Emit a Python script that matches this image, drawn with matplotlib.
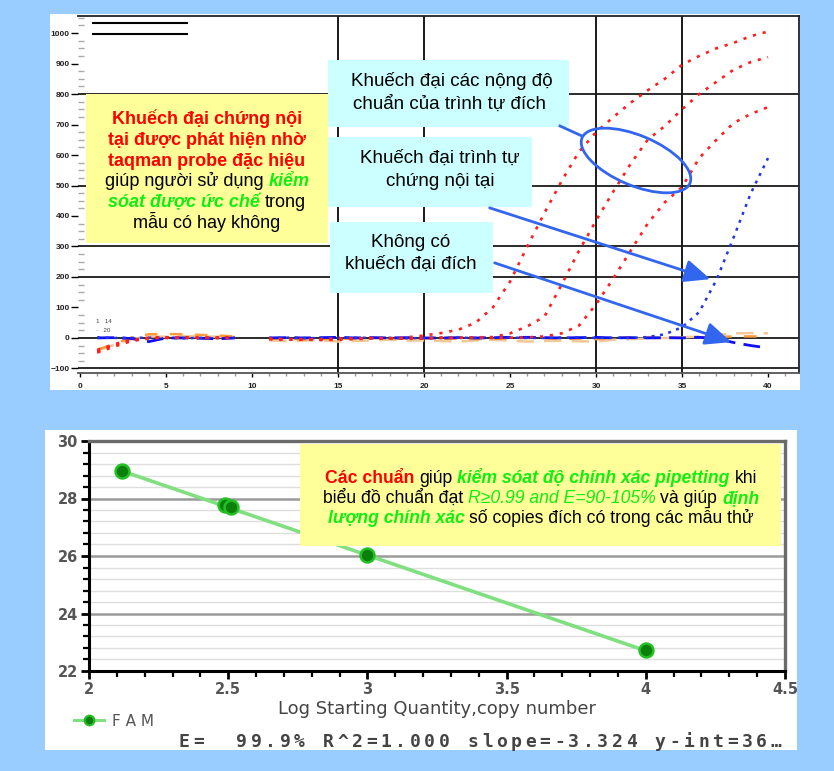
import numpy as np
import matplotlib
matplotlib.use("Agg")
import matplotlib.pyplot as plt
from matplotlib.patches import Rectangle, Ellipse, FancyArrowPatch
from matplotlib.ticker import MultipleLocator
from matplotlib.lines import Line2D

W, H = 834, 771
plt.rcParams['font.family'] = ['Liberation Sans', 'DejaVu Sans']

# ---------------- real-time amplification curves (fluorescence vs cycle) ----------------
nan = np.nan
cycles = np.arange(1, 41)
red_std_high = [-45, -24, -8, 1, 0, 2, 0, 1, 0, nan,
                -2, -4, -3, -5, -2, -1, 0, -2, 2, 8,
                16, 27, 50, 100, 185, 300, 410, 515, 610, 675,
                724, 771, 812, 850, 896, 925, 950, 968, 990, 1005]
red_std_mid = [-48, -28, -10, -2, 1, 0, 2, 0, 1, nan,
               -3, -5, -6, -4, -3, -2, -1, 0, -2, 0,
               1, 0, 2, 3, 15, 38, 70, 175, 285, 385,
               480, 570, 650, 695, 750, 800, 840, 880, 905, 921]
red_std_low = [-40, -20, -6, 0, 2, 1, 0, 0, 0, nan,
               -4, -6, -5, -7, -6, -4, -2, -1, -3, -2,
               0, 1, 2, 0, 1, 2, 5, 15, 40, 110,
               195, 285, 375, 445, 495, 590, 650, 705, 735, 757]
blue_internal_ctrl = [2, 0, 0, 1, 0, -1, 0, 0, 1, nan,
                      0, 1, 0, -1, 0, 1, 0, 0, -1, 0,
                      0, 1, 0, 0, 1, 0, 0, 1, 2, 0,
                      1, 0, 3, 12, 35, 85, 190, 330, 475, 590]
blue_no_target = [0, 1, -2, -12, 0, 0, -1, -3, 0, nan,
                  0, 1, 0, 1, 2, 0, 1, 0, 1, 0,
                  0, 1, 0, 1, 2, 2, 1, 0, 1, 2,
                  0, 1, 0, 1, 0, 2, -2, -15, -25, -33]
orange_ntc = [-38, -20, 2, 12, 13, 12, 10, 8, 5, nan,
              -3, -2, -5, -4, -3, -2, 0, -1, -2, -1,
              -3, -2, -4, -3, -2, 0, -1, -3, -2, -4,
              0, 1, 2, 0, 1, 2, 3, 5, 5, 5]
tan_ntc = [-42, -22, -4, 5, 4, 6, 5, 4, 3, nan,
           -8, -10, -9, -7, -12, -10, -8, -6, -9, -8,
           -10, -12, -8, -6, -9, -12, -10, -9, -11, -12,
           -6, -4, -2, 0, 2, 5, 10, 15, 16, 15]

amp_xticks = list(range(0, 41, 5))
amp_yticks = list(range(-100, 1001, 100))
amp_hgrid = [800, 500, 300, 200, 0, -100]
amp_vgrid = [15, 20, 30, 35]

# ---------------- standard curve ----------------
std_log_qty = [2.12, 2.49, 2.51, 3.0, 4.0]
std_ct = [28.95, 27.76, 27.70, 26.02, 22.72]
fit_slope = -3.324
fit_intercept = 36.0
fit_efficiency = 99.9
fit_r2 = 1.000
std_xticks = [2, 2.5, 3, 3.5, 4, 4.5]
std_xticklabels = ['2', '2.5', '3', '3.5', '4', '4.5']
std_yticks = [22, 24, 26, 28, 30]


def frac(x0, y0, x1, y1):
    return [x0 / W, 1 - y1 / H, (x1 - x0) / W, (y1 - y0) / H]


fig = plt.figure(figsize=(W / 100, H / 100), dpi=100, facecolor='#99CCFF')

# white panels behind both charts
bg = fig.add_axes([0, 0, 1, 1], zorder=0)
bg.set_xlim(0, W)
bg.set_ylim(H, 0)
bg.axis('off')
bg.add_patch(Rectangle((50, 14), 750, 376, facecolor='white', edgecolor='none'))
bg.add_patch(Rectangle((45, 430), 752, 320, facecolor='white', edgecolor='none'))

# ---------------- amplification plot ----------------
ax1 = fig.add_axes(frac(78, 16, 799, 373), zorder=1)
ax1.set_facecolor('white')
ax1.set_xlim(-0.12, 41.8)
ax1.set_ylim(-115, 1056)
for yv in amp_hgrid:
    ax1.axhline(yv, color='#1a1a1a', lw=1.3, zorder=1)
for xv in amp_vgrid:
    ax1.axvline(xv, color='#1a1a1a', lw=1.4, zorder=1)

ax1.plot(cycles, tan_ntc, color='#F3C896', lw=1.8, ls=(0, (7, 4)), zorder=2)
ax1.plot(cycles, orange_ntc, color='#FF9A3C', lw=1.8, ls=(0, (5, 5)), zorder=2)
ax1.plot(cycles, blue_no_target, color='#1010F0', lw=2.0, ls=(0, (6, 3)), zorder=3)
ax1.plot(cycles, blue_internal_ctrl, color='#2233EE', lw=1.8, ls=(0, (1.2, 2.2)), zorder=3)
for series in (red_std_high, red_std_mid, red_std_low):
    ax1.plot(cycles, series, color='#FF1E1E', lw=1.9, ls=(0, (1.2, 2.6)), zorder=4)

ax1.spines['left'].set_visible(False)
for side in ('top', 'right'):
    ax1.spines[side].set_color('#222')
    ax1.spines[side].set_linewidth(1.3)
ax1.spines['bottom'].set_color('#555')
ax1.spines['bottom'].set_linewidth(1.3)

ax1.set_xticks(amp_xticks)
ax1.set_yticks(amp_yticks)
ax1.xaxis.set_minor_locator(MultipleLocator(1))
ax1.yaxis.set_minor_locator(MultipleLocator(25))
ax1.tick_params(axis='y', which='major', direction='out', length=5, width=1,
                labelsize=6, labelcolor='#222', pad=1)
ax1.tick_params(axis='y', which='minor', direction='in', length=4, width=1, color='#aaa')
ax1.tick_params(axis='x', which='major', direction='out', length=3, width=1,
                labelsize=6, labelcolor='#222', pad=4)
ax1.tick_params(axis='x', which='minor', direction='out', length=2, width=1, color='#999')
for lbl in ax1.get_yticklabels() + ax1.get_xticklabels():
    lbl.set_fontweight('bold')

# well labels
ax1.text(0.9, 55, '1   14', fontsize=4.5, color='#444', va='center')
ax1.text(0.9, 25, '·   20', fontsize=4.5, color='#444', va='center')

# ---------------- standard curve plot ----------------
ax2 = fig.add_axes(frac(89, 441, 785, 671), zorder=1)
ax2.set_facecolor('white')
ax2.set_xlim(2, 4.5)
ax2.set_ylim(22, 30)
ax2.set_xticks(std_xticks)
ax2.set_xticklabels(std_xticklabels)
ax2.set_yticks(std_yticks)
ax2.yaxis.set_minor_locator(MultipleLocator(0.4))
ax2.xaxis.set_minor_locator(MultipleLocator(0.1))
ax2.grid(which='major', axis='y', color='#9a9a9a', lw=1.8, zorder=0)
ax2.grid(which='minor', axis='y', color='#dedede', lw=1.0, zorder=0)
ax2.set_axisbelow(True)
ax2.tick_params(axis='both', which='major', direction='out', length=6, width=2,
                color='black', labelsize=10.5, labelcolor='#555', pad=2)
ax2.tick_params(axis='both', which='minor', direction='out', length=4.5, width=1.6, color='black')
for lbl in ax2.get_xticklabels() + ax2.get_yticklabels():
    lbl.set_fontweight('bold')
    lbl.set_family('DejaVu Sans')
for side in ('left', 'bottom'):
    ax2.spines[side].set_color('black')
    ax2.spines[side].set_linewidth(2.2)
for side in ('top', 'right'):
    ax2.spines[side].set_color('#6b6b6b')
    ax2.spines[side].set_linewidth(2.4)

fit_x = np.array([min(std_log_qty), max(std_log_qty)])
ax2.plot(fit_x, fit_intercept + fit_slope * fit_x, color='#80E080', lw=2.6, zorder=3)
ax2.plot(std_log_qty, std_ct, 'o', ms=10, mfc='#0B800B', mec='#25C025', mew=1.8, zorder=4)
ax2.set_xlabel('Log Starting Quantity,copy number', fontsize=13, color='#444',
               family='DejaVu Sans', labelpad=2)

fam_handle = Line2D([], [], color='#80E080', lw=2.2, marker='o', ms=7,
                    mfc='#0B800B', mec='#25C025', mew=1.5)
leg = ax2.legend([fam_handle], ['F A M'], loc='center left',
                 bbox_to_anchor=(66 / W, 1 - 721 / H), bbox_transform=fig.transFigure,
                 frameon=False, handlelength=2.0, handletextpad=0.5, borderpad=0,
                 prop={'family': 'DejaVu Sans', 'size': 11})
for t in leg.get_texts():
    t.set_color('#555')

# ---------------- annotation layer ----------------
ov = fig.add_axes([0, 0, 1, 1], zorder=5)
ov.set_xlim(0, W)
ov.set_ylim(H, 0)
ov.axis('off')
ov.patch.set_alpha(0)

ov.plot([93, 187], [23, 23], color='black', lw=1.5)
ov.plot([93, 187], [34, 34], color='black', lw=1.5)

YELLOW = '#FFFF99'
CYAN = '#CCFFFF'
ov.add_patch(Rectangle((86, 94), 242, 149, facecolor=YELLOW, edgecolor='none'))
ov.add_patch(Rectangle((328, 60), 241, 67, facecolor=CYAN, edgecolor='none'))
ov.add_patch(Rectangle((328, 137), 204, 70, facecolor=CYAN, edgecolor='none'))
ov.add_patch(Rectangle((330, 222), 163, 71, facecolor=CYAN, edgecolor='none'))
ov.add_patch(Rectangle((300, 444), 481, 102, facecolor=YELLOW, edgecolor='none'))

STYLES = {
    'n': dict(color='black'),
    'r': dict(color='#FF0000', fontweight='bold'),
    'g': dict(color='#11EE11', fontweight='bold', fontstyle='italic'),
    'gi': dict(color='#11EE11', fontstyle='italic'),
}
renderer = fig.canvas.get_renderer()


def text_width(s, size, style):
    t = ov.text(0, 0, s, fontsize=size, **STYLES[style])
    w = t.get_window_extent(renderer).width
    t.remove()
    return w


def rich_line(xc, yb, parts, size):
    space = text_width('x x', size, 'n') - text_width('xx', size, 'n')
    items, total = [], 0.0
    for s, st in parts:
        lead = (len(s) - len(s.lstrip(' '))) * space
        trail = (len(s) - len(s.rstrip(' '))) * space
        core = s.strip(' ')
        w = text_width(core, size, st)
        items.append((lead, core, st, w, trail))
        total += lead + w + trail
    x = xc - total / 2
    for lead, core, st, w, trail in items:
        x += lead
        ov.text(x, yb, core, fontsize=size, ha='left', va='baseline', **STYLES[st])
        x += w + trail


FS = 13
yellow_lines = [
    [('Khuếch đại chứng nội', 'r')],
    [('tại được phát hiện nhờ', 'r')],
    [('taqman probe đặc hiệu', 'r')],
    [('giúp người sử dụng ', 'n'), ('kiểm', 'g')],
    [('sóat được ức chế', 'g'), (' trong', 'n')],
    [('mẫu có hay không', 'n')],
]
for i, parts in enumerate(yellow_lines):
    rich_line(207, 124 + 20.8 * i, parts, FS)

FSC = 13.5
rich_line(452, 86, [('Khuếch đại các nộng độ', 'n')], FSC)
rich_line(450, 109, [('chuẩn của trình tự đích', 'n')], FSC)
rich_line(440, 163, [('Khuếch đại trình tự', 'n')], FSC)
rich_line(440, 186, [('chứng nội tại', 'n')], FSC)
rich_line(411, 247, [('Không có', 'n')], FSC)
rich_line(411, 269, [('khuếch đại đích', 'n')], FSC)

FS2 = 12.7
std_lines = [
    [('Các chuẩn', 'r'), (' giúp ', 'n'), ('kiểm sóat độ chính xác pipetting', 'g'), (' khi', 'n')],
    [('biểu đồ chuẩn đạt ', 'n'), ('R≥0.99 and E=90-105%', 'gi'), (' và giúp ', 'n'), ('định', 'g')],
    [('lượng chính xác', 'g'), (' số copies đích có trong các mẫu thử', 'n')],
]
for i, parts in enumerate(std_lines):
    rich_line(541, 483 + 20 * i, parts, FS2)

# callouts
BLUE = '#3366EE'
ov.add_patch(Ellipse((636, 160.5), 117, 50, angle=22.8, fill=False, edgecolor=BLUE, lw=2))
ov.plot([560, 582], [126, 136], color=BLUE, lw=2)
for start, end in [((487, 207), (713, 280)), ((492, 262), (734, 343))]:
    ov.add_patch(FancyArrowPatch(start, end, arrowstyle='-|>,head_length=0.8,head_width=0.35',
                                 mutation_scale=20, lw=2, color=BLUE))

# regression summary in a fixed character grid
stats = (f"E= {fit_efficiency:5.1f}% R^2={fit_r2:.3f} "
         f"slope={fit_slope:.3f} y-int={fit_intercept:.0f}…")
pitch = (783 - 177) / len(stats)
for i, ch in enumerate(stats):
    ov.text(177 + pitch * (i + 0.5), 747, ch, fontsize=13, family='DejaVu Sans Mono',
            fontweight='bold', color='#444', ha='center', va='baseline')

fig.savefig('out.png', dpi=100, facecolor=fig.get_facecolor())
